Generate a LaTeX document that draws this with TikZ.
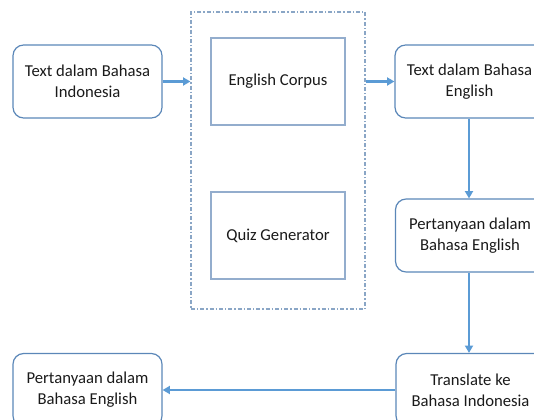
\documentclass[tikz,border=0pt]{standalone}
\usepackage{fontspec}
\setmainfont{Carlito}
\usetikzlibrary{arrows.meta}
\definecolor{boxc}{HTML}{5B87B8}
\definecolor{innerc}{HTML}{93ADCD}
\definecolor{contc}{HTML}{8AA6C6}
\definecolor{arrc}{HTML}{5B9BD5}
\definecolor{txtc}{HTML}{1A1A1A}
\tikzset{
  rbox/.style={draw=boxc, line width=0.9pt, rounded corners=8pt, minimum width=111.75pt, minimum height=54.75pt, align=center, inner sep=0pt, font=\fontsize{12.5}{15.75}\selectfont, text=txtc},
  ibox/.style={draw=innerc, line width=1pt, minimum width=100.5pt, minimum height=65.25pt, align=center, inner sep=0pt, font=\fontsize{12.5}{15.75}\selectfont, text=txtc},
  cont/.style={draw=contc, line width=0.9pt, dash pattern=on 3pt off 1.5pt on 1pt off 1.5pt},
  arr/.style={draw=arrc, line width=1.7pt, -{Triangle[length=5.5pt,width=6pt]}}
}
\begin{document}
\begin{tikzpicture}[x=0.75pt,y=-0.75pt]
\useasboundingbox (0,0) rectangle (534,420);
\clip (0,0) rectangle (534,420);
\node[rbox] (a) at (87.5,81.5) {Text dalam Bahasa\\Indonesia};
\node[cont, minimum width=130.5pt, minimum height=222.75pt, inner sep=0pt] (c) at (278,160.5) {};
\node[ibox] (ec) at (278,81.5) {English Corpus};
\node[ibox] (qg) at (278,235.5) {Quiz Generator};
\node[rbox] (b) at (469.5,81.5) {Text dalam Bahasa\\English};
\node[rbox] (d) at (470,235.5) {Pertanyaan dalam\\Bahasa English};
\node[rbox] (e) at (470.5,390) {Translate ke\\Bahasa Indonesia};
\node[rbox] (f) at (87.5,390) {Pertanyaan dalam\\Bahasa English};
\draw[arr] (a.east) -- (c.west |- a.east);
\draw[arr] (c.east |- b.west) -- (b.west);
\draw[arr] (b.south -| 469,0) -- (d.north -| 469,0);
\draw[arr] (d.south -| 469,0) -- (e.north -| 469,0);
\draw[arr] (e.west) -- (f.east);
\end{tikzpicture}
\end{document}
